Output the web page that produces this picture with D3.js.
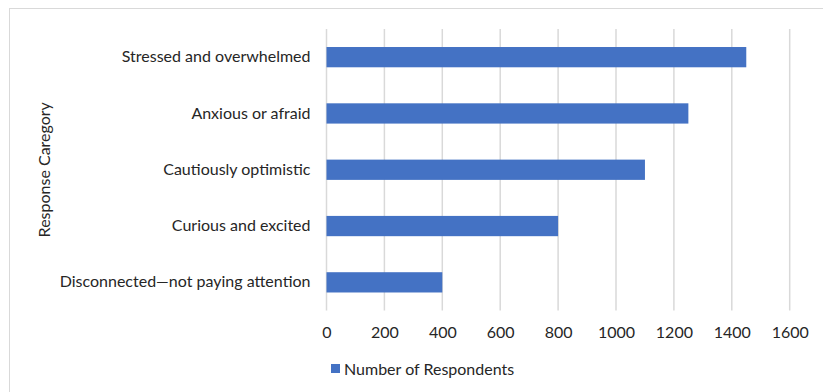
<!DOCTYPE html>
<html>
<head>
<meta charset="utf-8">
<script src="https://cdn.jsdelivr.net/npm/d3@7"></script>
<style>
  html, body { margin: 0; padding: 0; background: #fff; }
  svg { display: block; font-family: Lato, "Open Sans", sans-serif; }
</style>
</head>
<body>
<svg id="chart" width="823" height="392"></svg>
<script>
// Survey responses, top to bottom
const categories = [
  "Stressed and overwhelmed",
  "Anxious or afraid",
  "Cautiously optimistic",
  "Curious and excited",
  "Disconnected\u2014not paying attention"
];
const respondents = [1450, 1250, 1100, 800, 400];
const xTicks = [0, 200, 400, 600, 800, 1000, 1200, 1400, 1600];
const seriesName = "Number of Respondents";
const axisTitle = "Response Caregory";

const svg = d3.select("#chart");
const barColor = "#4472C4";
const textColor = "#262626";
const fontSize = 16;

// Chart frame
svg.append("rect")
  .attr("x", 9.5).attr("y", 8.5)
  .attr("width", 830).attr("height", 400)
  .attr("fill", "none").attr("stroke", "#d9d9d9").attr("stroke-width", 1);

const plot = { left: 326.5, right: 789.7, top: 29, bottom: 310.5 };

const x = d3.scaleLinear().domain([0, 1600]).range([plot.left, plot.right]);
const y = d3.scaleBand().domain(categories).range([plot.top, plot.bottom]).paddingInner(0.64).paddingOuter(0.32);

// Vertical gridlines
svg.append("g")
  .selectAll("line")
  .data(xTicks)
  .join("line")
  .attr("x1", d => x(d)).attr("x2", d => x(d))
  .attr("y1", plot.top).attr("y2", plot.bottom)
  .attr("stroke", "#d9d9d9").attr("stroke-width", 1.5);

// Bars
svg.append("g")
  .selectAll("rect")
  .data(respondents)
  .join("rect")
  .attr("x", x(0))
  .attr("y", (d, i) => y(categories[i]))
  .attr("width", d => x(d) - x(0))
  .attr("height", y.bandwidth())
  .attr("fill", barColor);

// X axis tick labels
const xAxis = d3.axisBottom(x).tickValues(xTicks).tickFormat(d3.format("d")).tickSize(0).tickPadding(0);
const gx = svg.append("g").attr("transform", `translate(0,${plot.bottom + 27})`).call(xAxis);
gx.select(".domain").remove();
gx.selectAll("text")
  .attr("font-family", "Lato, 'Open Sans', sans-serif")
  .attr("font-size", fontSize).attr("fill", textColor).attr("dy", 0);

// Category labels
const yAxis = d3.axisLeft(y).tickSize(0).tickPadding(16);
const gy = svg.append("g").attr("transform", `translate(${plot.left},0)`).call(yAxis);
gy.select(".domain").remove();
gy.selectAll("text")
  .attr("font-family", "Lato, 'Open Sans', sans-serif")
  .attr("font-size", fontSize).attr("fill", textColor);

// Axis title
svg.append("text")
  .attr("transform", `translate(50,${(plot.top + plot.bottom) / 2}) rotate(-90)`)
  .attr("text-anchor", "middle")
  .attr("font-size", fontSize).attr("fill", textColor)
  .text(axisTitle);

// Legend
const legend = svg.append("g").attr("transform", "translate(331,369)");
legend.append("rect").attr("x", 0).attr("y", -5).attr("width", 9).attr("height", 9).attr("fill", barColor);
legend.append("text").attr("x", 13).attr("y", 0).attr("dy", "0.35em")
  .attr("font-size", fontSize).attr("fill", textColor).text(seriesName);
</script>
</body>
</html>
